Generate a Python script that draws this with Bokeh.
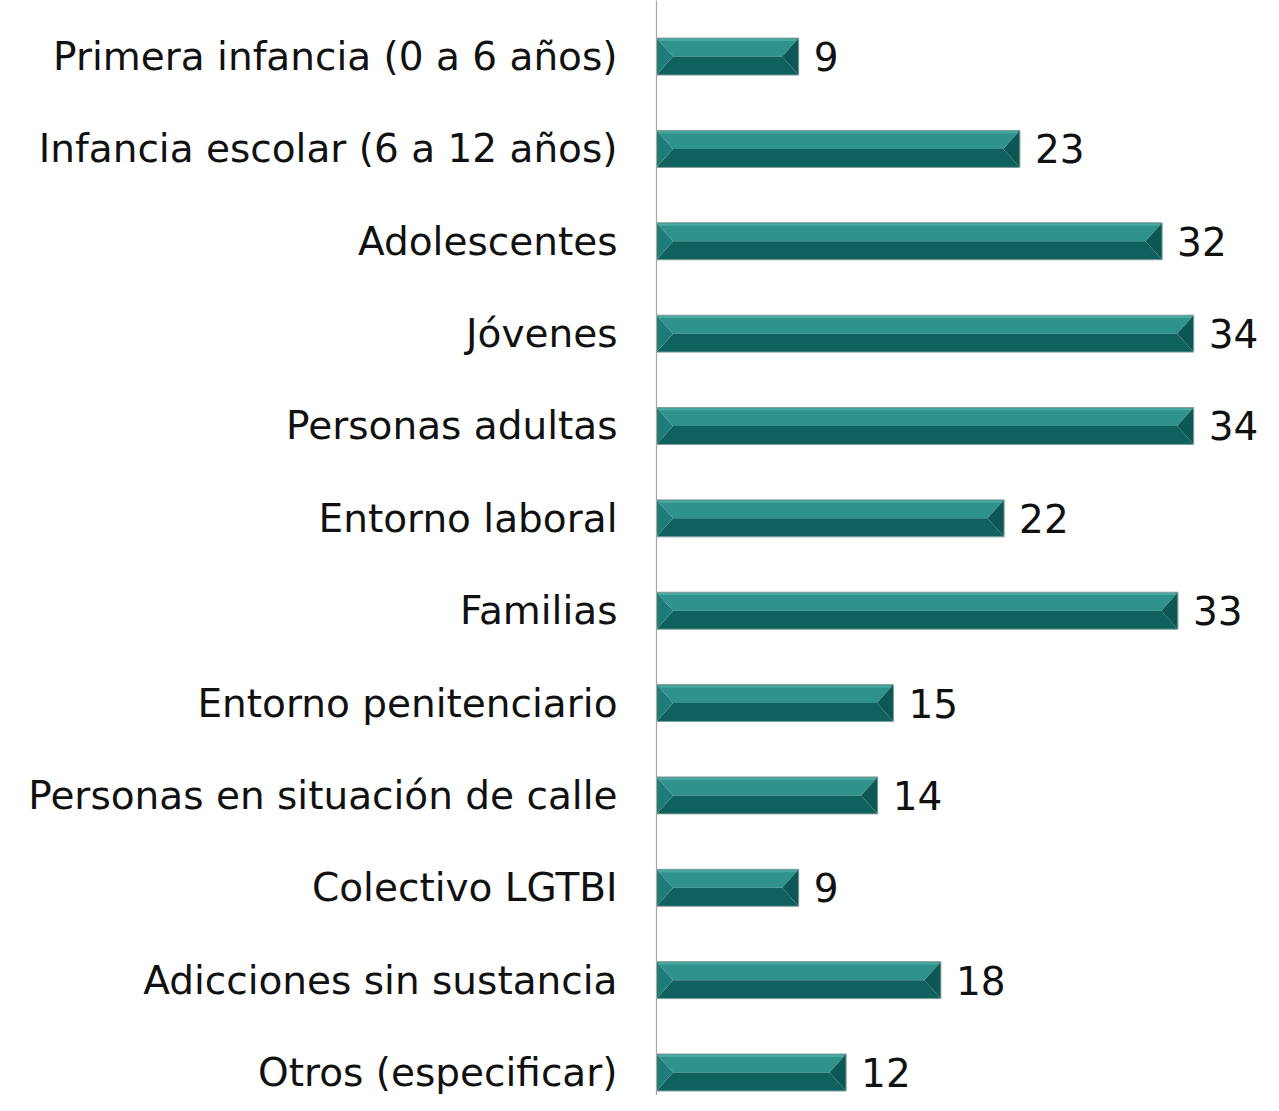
from bokeh.plotting import figure
from bokeh.models import Range1d, FixedTicker
from bokeh.embed import file_html
from bokeh.resources import INLINE
from bokeh.core.properties import value

categories = [
    "Primera infancia (0 a 6 años)",
    "Infancia escolar (6 a 12 años)",
    "Adolescentes",
    "Jóvenes",
    "Personas adultas",
    "Entorno laboral",
    "Familias",
    "Entorno penitenciario",
    "Personas en situación de calle",
    "Colectivo LGTBI",
    "Adicciones sin sustancia",
    "Otros (especificar)",
]
values = [9, 23, 32, 34, 34, 22, 33, 15, 14, 9, 18, 12]

FONT = "DejaVu Sans"
FSIZE = "39px"
positions = list(range(len(categories)))

# frame: left at 656 px, 1 unit = 15.8 px, frame width 1263-656 = 607 px
p = figure(width=1263, height=1095, output_backend="svg", toolbar_location=None,
           x_range=Range1d(0, 607 / 15.8), y_range=Range1d(11.249, -0.607),
           min_border_left=656, min_border_right=0, min_border_top=0, min_border_bottom=0)
p.outline_line_color = None
p.grid.visible = False
p.xaxis.visible = False

ya = p.yaxis[0]
ya.ticker = FixedTicker(ticks=positions)
ya.major_label_overrides = {i: c for i, c in enumerate(categories)}
ya.major_tick_line_color = None
ya.minor_tick_line_color = None
ya.major_tick_out = 0
ya.major_label_standoff = 39
ya.axis_line_color = "#a6a6a6"
ya.axis_line_width = 1.2
ya.major_label_text_font = FONT
ya.major_label_text_font_size = FSIZE
ya.major_label_text_color = "#111111"

h = 0.2
b = 1.05
top_xs, top_ys, bot_xs, bot_ys, l_xs, l_ys, r_xs, r_ys = [], [], [], [], [], [], [], []
for y, v in zip(positions, values):
    top_xs.append([0, v, v - b, b]); top_ys.append([y - h, y - h, y, y])
    bot_xs.append([0, v, v - b, b]); bot_ys.append([y + h, y + h, y, y])
    l_xs.append([0, b, 0]); l_ys.append([y - h, y, y + h])
    r_xs.append([v, v - b, v]); r_ys.append([y - h, y, y + h])

p.patches(top_xs, top_ys, fill_color="#2f928b", line_color=None)
p.patches(bot_xs, bot_ys, fill_color="#0f615d", line_color=None)
p.patches(l_xs, l_ys, fill_color="#1f7c76", line_color=None)
p.patches(r_xs, r_ys, fill_color="#0d5855", line_color=None)
p.segment(x0=[0.15] * len(values), x1=[v - 0.15 for v in values],
          y0=[y - h + 0.02 for y in positions], y1=[y - h + 0.02 for y in positions],
          line_color="#4aa9a1", line_width=2)
p.quad(left=[0] * len(values), right=values,
       top=[y - h for y in positions], bottom=[y + h for y in positions],
       fill_color=None, line_color="#7f9f9c", line_width=1)

p.text(x=values, y=positions, text=[str(v) for v in values],
       x_offset=15, text_align="left", text_baseline="middle",
       text_font=value(FONT), text_font_size=FSIZE, text_color="#111111")

open("out.html", "w").write(file_html(p, INLINE))
